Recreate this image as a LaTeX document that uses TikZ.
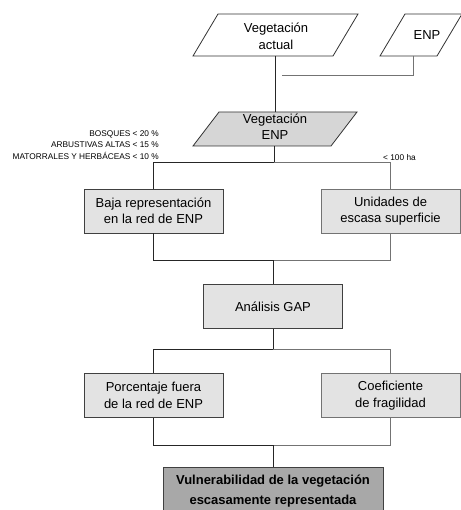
\documentclass[tikz,border=0pt]{standalone}
\usepackage{fontspec}
\setmainfont{Liberation Sans}
\begin{document}
\begin{tikzpicture}[x=1pt,y=-1pt,
  box/.style={draw=black!75, fill=black!11, line width=0.8pt, minimum width=139pt, minimum height=44pt, inner sep=0pt, align=center, font=\fontsize{13}{16.5}\selectfont},
  para/.style={draw=black!80, line width=0.8pt},
  txt/.style={align=center, inner sep=0pt, font=\fontsize{13}{17}\selectfont},
  lbl/.style={inner sep=0pt, font=\fontsize{8.3}{10}\selectfont},
  conn/.style={line width=0.8pt, draw=black!85},
  connr/.style={line width=0.8pt, draw=black!55}]
\useasboundingbox (0,0) rectangle (460,510);

% parallelograms
\draw[para, fill=white] (218,14) -- (358,14) -- (333,56) -- (193,56) -- cycle;
\node[txt] (va) at (276,36.5) {Vegetación\\actual};
\draw[para, fill=white] (405,14) -- (462,14) -- (437,56) -- (380,56) -- cycle;
\node[txt] (enp) at (427,35) {ENP};
\draw[para, fill=black!16] (219,112) -- (357,112) -- (331,146) -- (193,146) -- cycle;
\node[txt, font=\fontsize{13}{16}\selectfont] (vegenp) at (275,127) {Vegetación\\ENP};

\coordinate (vab) at (275,56);
\coordinate (vegt) at (275,112);
\coordinate (vegb) at (274,146);
\coordinate (enpb) at (413,56);
\coordinate (enpj) at (282,75);

% labels
\node[lbl, anchor=east] (l1) at (159,134) {BOSQUES < 20 \%};
\node[lbl, anchor=east] (l2) at (159,145) {ARBUSTIVAS ALTAS < 15 \%};
\node[lbl, anchor=east] (l3) at (159,156) {MATORRALES Y HERBÁCEAS < 10 \%};
\node[lbl, anchor=west] (l4) at (383,158) {< 100 ha};

% boxes
\node[box] (baja) at (153.5,211) {Baja representación\\en la red de ENP};
\node[box, draw=black!55] (unid) at (390.5,211) {Unidades de\\escasa superficie};
\node[box] (gap) at (273,306.5) {Análisis GAP};
\node[box] (porc) at (153.5,395.5) {Porcentaje fuera\\de la red de ENP};
\node[box, draw=black!55] (coef) at (390.5,395.5) {Coeficiente\\de fragilidad};
\node[box, fill=black!34, minimum width=220pt, minimum height=48pt, font=\bfseries\fontsize{13}{20}\selectfont] (vuln) at (273,491) {Vulnerabilidad de la vegetación\\escasamente representada};

% connectors
\draw[conn] (vab) -- (vegt);
\draw[connr] (enpb) |- (enpj);
\coordinate (j1) at (274,162);
\draw[conn] (vegb) -- (j1);
\draw[conn] (j1) -| (baja.north);
\draw[connr] (j1) -| (unid.north);

\coordinate (j2) at (273,260);
\draw[conn] (baja.south) |- (j2);
\draw[connr] (unid.south) |- (j2);
\draw[conn] (j2) -- (gap.north);

\coordinate (j3) at (273,349);
\draw[conn] (gap.south) -- (j3);
\draw[conn] (j3) -| (porc.north);
\draw[connr] (j3) -| (coef.north);

\coordinate (j4) at (273,445);
\draw[conn] (porc.south) |- (j4);
\draw[connr] (coef.south) |- (j4);
\draw[conn] (j4) -- (vuln.north);
\end{tikzpicture}
\end{document}
